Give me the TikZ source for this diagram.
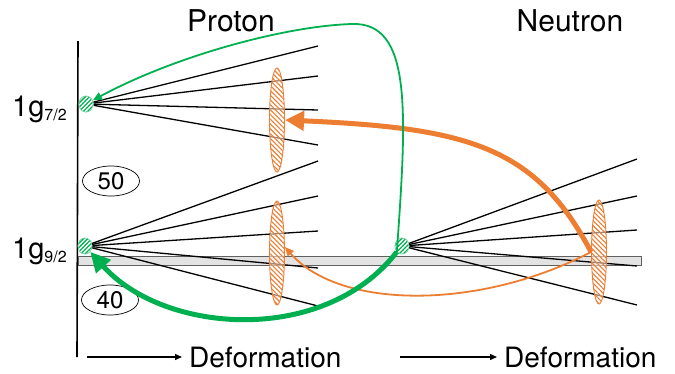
\documentclass[tikz,border=0pt]{standalone}
\usepackage{fontspec}
\setmainfont{TeX Gyre Heros}
\usetikzlibrary{arrows.meta,patterns.meta,shapes.geometric}
\definecolor{levgreen}{RGB}{0,176,80}
\definecolor{levorange}{RGB}{237,125,49}
\tikzset{
  lbl/.style={font=\fontsize{30}{36}\selectfont, inner sep=0},
  glbl/.style={font=\fontsize{29}{34}\selectfont, inner sep=0, anchor=base west},
  deflbl/.style={font=\fontsize{28}{34}\selectfont, inner sep=0, anchor=west},
  defarrow/.style={line width=1.3pt, -{Triangle[length=7pt,width=6pt]}},
  axisline/.style={line width=1.6pt},
  fanline/.style={line width=1.3pt},
  band/.style={draw=gray!75!black, line width=0.9pt, preaction={fill=gray!18},
    pattern={Dots[distance=2pt,radius=0.45pt]}, pattern color=gray!60},
  gdot/.style={ellipse, inner sep=0, minimum width=14pt, minimum height=16pt,
    draw=levgreen!55, line width=0.6pt, preaction={fill=white},
    pattern={Lines[angle=45,distance=3pt,line width=1.3pt]}, pattern color=levgreen},
  oell/.style={ellipse, inner sep=0, minimum width=15pt, minimum height=104pt,
    draw=levorange, line width=0.9pt, preaction={fill=white, fill opacity=0.55},
    pattern={Lines[angle=-45,distance=3.4pt,line width=1.1pt]}, pattern color=levorange},
  magic/.style={ellipse, draw, line width=0.7pt, inner sep=0, minimum width=57pt,
    minimum height=30pt},
  magictext/.style={font=\fontsize{24}{24}\selectfont, inner sep=0},
  gthick/.style={levgreen, line width=5pt, -{Triangle[length=20pt,width=19pt]}},
  gthin/.style={levgreen, line width=1.8pt, -{Triangle[length=9pt,width=8pt]}},
  othick/.style={levorange, line width=5pt, -{Triangle[length=19pt,width=19pt]}},
  othin/.style={levorange, line width=1.8pt, -{Triangle[length=9pt,width=8pt]}},
}
\begin{document}
\begin{tikzpicture}[x=1pt,y=-1pt]
\useasboundingbox (0,0) rectangle (675,373);

% titles
\node[lbl, anchor=base] (proton) at (231,31) {Proton};
\node[lbl, anchor=base] (neutron) at (570,31) {Neutron};

% energy axis and the Fermi band
\draw[axisline] (78,41) -- (77,357);
\draw[band] (78,256) rectangle (641,265);

% level labels and shell gaps
\node[glbl] (g7) at (12,116) {1g\raisebox{-4pt}{\fontsize{16}{16}\selectfont 7/2}};
\node[glbl] (g9) at (12,258) {1g\raisebox{-4pt}{\fontsize{16}{16}\selectfont 9/2}};
\node[magic] (m50) at (111,181) {};
\node[magictext] (t50) at (m50.center) {50};
\node[magic] (m40) at (110,300) {};
\node[magictext] (t40) at (m40.center) {40};

% spherical levels
\node[gdot] (p7) at (86,104) {};
\node[gdot] (p9) at (85,246) {};
\node[gdot] (n9) at (402,246) {};

% Nilsson fans
\foreach \y [count=\i] in {46,76,110,145} {
  \coordinate (pa\i) at (318,\y);
  \draw[fanline] (p7) -- (pa\i);
}
\foreach \y [count=\i] in {161,196,231,268,306} {
  \coordinate (pb\i) at (318,\y);
  \draw[fanline] (p9) -- (pb\i);
}
\foreach \y [count=\i] in {159,196,230,266,305} {
  \coordinate (nb\i) at (637,\y);
  \draw[fanline] (n9) -- (nb\i);
}
% redraw dots over the fan lines
\node[gdot] at (p7) {};
\node[gdot] at (p9) {};
\node[gdot] at (n9) {};

% deformed orbital groups
\node[oell] (pe7) at (277,120) {};
\node[oell] (pe9) at (277,253) {};
\node[oell] (ne) at (599,252) {};

% neutron -> proton transfers
\draw[othick] (ne.west) .. controls (535,145) and (465,128) .. (pe7.east);
\draw[othin] (ne.west) .. controls (480,310) and (340,310) .. ([yshift=6pt]pe9.east);

\coordinate (gtop) at (352,24);
\draw[gthin] (n9.south west) .. controls (407,110) and (412,22) .. (gtop)
  .. controls (285,26) and (175,56) .. (p7);
\draw[gthick] (n9.south west) .. controls (325,345) and (165,335) .. (p9);

% deformation axes
\coordinate (d1s) at (87,357);
\coordinate (d1e) at (182,357);
\coordinate (d2s) at (400,357);
\coordinate (d2e) at (497,357);
\draw[defarrow] (d1s) -- (d1e);
\draw[defarrow] (d2s) -- (d2e);
\node[deflbl] (def1) at (189,357) {Deformation};
\node[deflbl] (def2) at (504,357) {Deformation};
\end{tikzpicture}
\end{document}
